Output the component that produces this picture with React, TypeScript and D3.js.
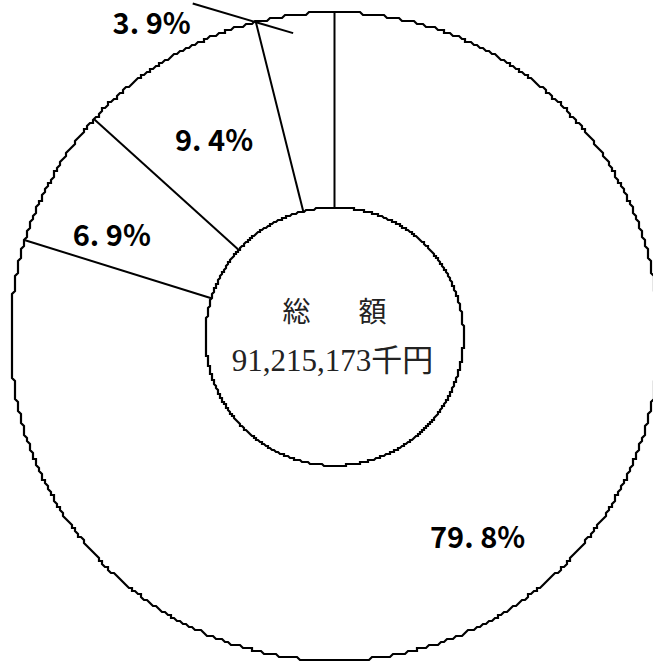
import React from 'react';
import * as d3 from 'd3';

// ---- data ----
const categories = ['区分A', '区分B', '区分C', '区分D'];
const shares = [79.8, 6.9, 9.4, 3.9];
const centerTitle = '総　額';
const centerTotal = '91,215,173千円';

// ---- layout / style ----
const W = 653;
const H = 663;
const CX = 334.5;
const CY = 336.5;
const R = 324;
const R0 = 129;
const LABEL_R = 238;
// per-label visual nudges (px), same order as shares
const labelNudge: [number, number][] = [
  [2, 7],
  [-16, 14],
  [2, 6],
  [3, -1],
];

const fmt = (v: number) => v.toFixed(1).replace('.', '. ') + '%';

const polar = (a: number, r: number): [number, number] => [CX + r * Math.sin(a), CY - r * Math.cos(a)];

function jaggedCircle(r: number, step: number): string {
  const pts: [number, number][] = [];
  const n = 720;
  for (let i = 0; i < n; i++) {
    const a = (i / n) * 2 * Math.PI;
    const [px, py] = polar(a, r);
    const x = Math.round(px / step) * step;
    const y = Math.round(py / step) * step;
    const last = pts[pts.length - 1];
    if (!last || last[0] !== x || last[1] !== y) pts.push([x, y]);
  }
  return d3.line().curve(d3.curveLinearClosed)(pts) || '';
}

export default function App() {
  const pie = d3
    .pie<number>()
    .sort(null)
    .value((d) => d)
    .startAngle(0)
    .endAngle(2 * Math.PI);
  const arcs = pie(shares);
  const arc = d3.arc<d3.PieArcDatum<number>>().innerRadius(R0).outerRadius(R);
  const labelArc = d3.arc<d3.PieArcDatum<number>>().innerRadius(LABEL_R).outerRadius(LABEL_R);

  const labelFont = "'Noto Sans CJK JP', 'Noto Sans', sans-serif";
  const serifFont = "'Liberation Serif', 'DejaVu Serif', 'Noto Sans CJK JP', serif";

  return (
    <svg
      width={W}
      height={H}
      style={{ position: 'absolute', left: 0, top: 0, background: '#fff' }}
    >
      <g>
        {arcs.map((a, i) => (
          <path
            key={categories[i]}
            d={arc(a) || ''}
            transform={`translate(${CX},${CY})`}
            fill="#fff"
            stroke="none"
          />
        ))}
      </g>
      {/* separators */}
      {arcs.map((a, i) => {
        const [x1, y1] = polar(a.startAngle, R0);
        const [x2, y2] = polar(a.startAngle, R);
        return <line key={'s' + i} x1={x1} y1={y1} x2={x2} y2={y2} stroke="#000" strokeWidth={2} />;
      })}
      {/* outlines */}
      <path d={jaggedCircle(R, 3)} fill="none" stroke="#000" strokeWidth={2.2} />
      <path d={jaggedCircle(R0, 2)} fill="none" stroke="#000" strokeWidth={2.2} />

      {/* labels */}
      {arcs.map((a, i) => {
        const v = shares[i];
        const [nx, ny] = labelNudge[i];
        if (v < 5) {
          const mid = (a.startAngle + a.endAngle) / 2;
          const [sx, sy] = polar(mid - 0.013, R * 0.945);
          const [ex, ey] = polar(mid - 0.28, R * 1.117);
          return (
            <g key={'l' + i}>
              <line x1={sx} y1={sy} x2={ex} y2={ey} stroke="#000" strokeWidth={2} />
              <text
                x={ex - 5 + nx}
                y={ey + 18 + ny}
                textAnchor="end"
                dominantBaseline="central"
                fontFamily={labelFont}
                fontWeight={700}
                fontSize={29}
                style={{ whiteSpace: 'pre' }}
              >
                {fmt(v)}
              </text>
            </g>
          );
        }
        const [lx, ly] = labelArc.centroid(a);
        return (
          <text
            key={'l' + i}
            x={CX + lx + nx}
            y={CY + ly + ny}
            textAnchor="middle"
            dominantBaseline="central"
            fontFamily={labelFont}
            fontWeight={700}
            fontSize={29}
            style={{ whiteSpace: 'pre' }}
          >
            {fmt(v)}
          </text>
        );
      })}

      {/* center */}
      <text
        x={CX + 5}
        y={CY - 24}
        textAnchor="middle"
        dominantBaseline="central"
        fontFamily={serifFont}
        fontSize={28}
        letterSpacing={10}
        fill="#222"
        style={{ whiteSpace: 'pre' }}
      >
        {centerTitle}
      </text>
      <text
        x={CX - 2}
        y={CY + 24}
        textAnchor="middle"
        dominantBaseline="central"
        fontFamily={serifFont}
        fontSize={31}
        fill="#222"
      >
        {centerTotal}
      </text>
    </svg>
  );
}
